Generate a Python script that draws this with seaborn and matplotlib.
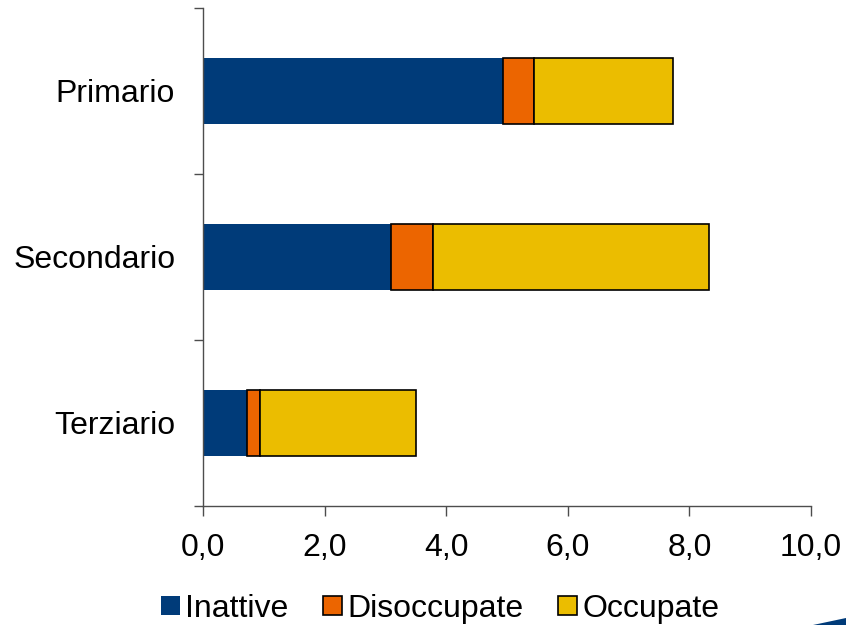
import numpy as np
import pandas as pd
import matplotlib
matplotlib.use("Agg")
import matplotlib.pyplot as plt
import seaborn as sns
from matplotlib.patches import Patch, Polygon

# ---- data ----
categories = ["Primario", "Secondario", "Terziario"]
inattive = [4.94, 3.10, 0.72]
disoccupate = [0.50, 0.68, 0.22]
occupate = [2.29, 4.54, 2.57]
series_names = ["Inattive", "Disoccupate", "Occupate"]
series_colors = ["#003B79", "#EC6500", "#EBBD00"]
xtick_values = [0, 2, 4, 6, 8, 10]
xtick_labels = ["0,0", "2,0", "4,0", "6,0", "8,0", "10,0"]

sns.set_style("white")
plt.rcParams["font.family"] = ["Liberation Sans", "DejaVu Sans"]
plt.rcParams["text.color"] = "black"
plt.rcParams["xtick.color"] = "black"
plt.rcParams["ytick.color"] = "black"

FS = 23
W, H = 846, 625
fig = plt.figure(figsize=(W / 100, H / 100), dpi=100)
ax = fig.add_axes([203 / W, (H - 506) / H, (811 - 203) / W, (506 - 8) / H])

values = [inattive, disoccupate, occupate]
left = np.zeros(len(categories))
for name, vals, col in zip(series_names, values, series_colors):
    df = pd.DataFrame({"Settore": categories, "valore": vals})
    edge = "none" if name == "Inattive" else "black"
    lw = 0 if name == "Inattive" else 1.2
    sns.barplot(data=df, x="valore", y="Settore", order=categories, orient="y",
                color=col, saturation=1, width=0.4, errorbar=None,
                left=left.copy(), edgecolor=edge, linewidth=lw, ax=ax)
    left = left + np.array(vals)

ax.set_xlim(0, 10)
ax.set_ylim(2.5, -0.5)
ax.set_xlabel("")
ax.set_ylabel("")
ax.set_xticks(xtick_values)
ax.set_xticklabels(xtick_labels, fontsize=FS, color="black")
ax.set_yticks(range(len(categories)))
ax.set_yticklabels(categories, fontsize=FS, color="black")
ax.set_yticks([-0.5, 0.5, 1.5, 2.5], minor=True)
ax.tick_params(axis="y", which="major", length=0, pad=20, left=False)
ax.tick_params(axis="y", which="minor", left=True, length=6.5, width=1.0,
               color="#4d4d4d", direction="out")
ax.tick_params(axis="x", which="major", length=7.5, width=1.0, color="#4d4d4d",
               direction="out", pad=12, bottom=True)
sns.despine(ax=ax, top=True, right=True)
for s in ["left", "bottom"]:
    ax.spines[s].set_color("#4d4d4d")
    ax.spines[s].set_linewidth(1.0)
ax.grid(False)

handles = [Patch(facecolor=series_colors[0], edgecolor="none"),
           Patch(facecolor=series_colors[1], edgecolor="black", linewidth=1.2),
           Patch(facecolor=series_colors[2], edgecolor="black", linewidth=1.2)]
leg = fig.legend(handles, series_names, loc="center", bbox_to_anchor=(440 / W, 16 / H),
                 ncol=3, frameon=False, fontsize=FS, handlelength=0.6, handleheight=0.55,
                 handletextpad=0.15, columnspacing=1.1, borderpad=0, borderaxespad=0)
for t in leg.get_texts():
    t.set_color("black")

fig.patches.append(Polygon([[813 / W, 0], [1, 0], [1, 7 / H]], closed=True,
                           transform=fig.transFigure, facecolor="#003B79",
                           edgecolor="none", figure=fig))

fig.savefig("out.png", dpi=100)
